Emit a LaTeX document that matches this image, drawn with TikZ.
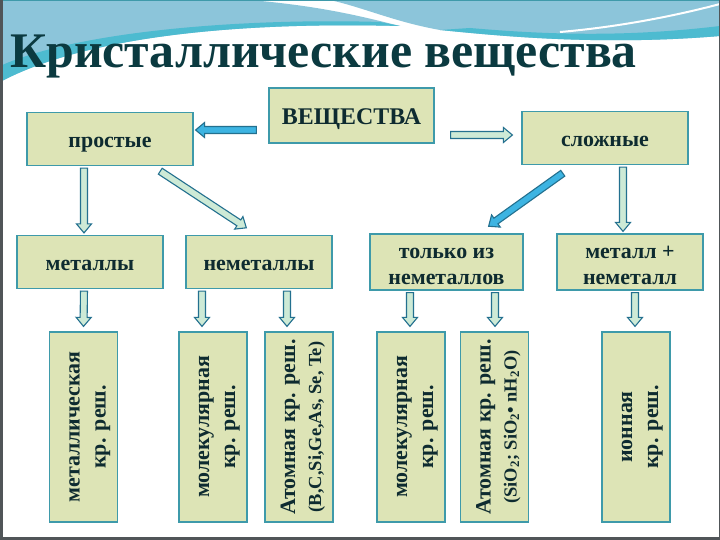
\documentclass[tikz,border=0pt]{standalone}
\usepackage{fontspec}
\setmainfont{Liberation Serif}
\usetikzlibrary{calc,positioning}
\definecolor{boxfill}{HTML}{DDE4B6}
\definecolor{boxline}{HTML}{3E9AAA}
\definecolor{txtdark}{HTML}{0E2B30}
\definecolor{titlecol}{HTML}{0B3A40}
\definecolor{lightfill}{HTML}{CDEAD6}
\definecolor{solidfill}{HTML}{3DB4E2}
\definecolor{arrline}{HTML}{23708F}
\definecolor{bannerblue}{HTML}{8CC5DA}
\definecolor{bannercyan}{HTML}{4DBBD0}
\definecolor{framegray}{HTML}{505558}
\tikzset{
  box/.style={draw=boxline, fill=boxfill, line width=1.2bp, text=txtdark, align=center,
    inner sep=0pt, font=\bfseries\fontsize{22}{26}\selectfont, minimum height=53bp,
    text height=24bp, text depth=6bp},
  twoline/.style={text height=50bp},
  tallbox/.style={box, twoline, rotate=90, minimum width=190bp, minimum height=68bp},
  arrowbody/.style={draw=arrline, line width=1.1bp, line join=miter}
}
% block arrow: fill, from, to
\newcommand{\blockarrow}[3]{%
  \path (#2) coordinate (ba-a) (#3) coordinate (ba-b);
  \path ($(ba-a)!2bp!(ba-b)$) coordinate (ba-s) ($(ba-b)!2bp!(ba-a)$) coordinate (ba-e);
  \path ($(ba-e)!9bp!(ba-s)$) coordinate (ba-h);
  \filldraw[arrowbody, fill=#1] ($(ba-s)!3.5bp!90:(ba-e)$) -- ($(ba-h)!3.5bp!90:(ba-e)$)
    -- ($(ba-h)!7.5bp!90:(ba-e)$) -- (ba-e) -- ($(ba-h)!7.5bp!-90:(ba-e)$)
    -- ($(ba-h)!3.5bp!-90:(ba-e)$) -- ($(ba-s)!3.5bp!-90:(ba-e)$) -- cycle;
}
\begin{document}
\begin{tikzpicture}[x=1bp,y=-1bp]
\useasboundingbox (0,0) rectangle (720,540);
\fill[white] (0,0) rectangle (720,540);
% banner at the top
\fill[bannerblue] (0,0) -- (250,0) .. controls (320,6) and (360,16) .. (400,26)
  .. controls (250,22) and (90,34) .. (0,82) -- cycle;
\fill[bannerblue] (330,0) -- (720,0) -- (720,36) .. controls (600,46) and (500,36) .. (440,30)
  .. controls (395,22) and (365,8) .. (330,0) -- cycle;
\fill[bannercyan] (0,82) .. controls (90,34) and (250,22) .. (400,26) -- (380,22)
  .. controls (250,18) and (80,30) .. (0,66) -- cycle;
\fill[bannercyan] (720,36) .. controls (600,46) and (500,36) .. (440,30) -- (470,28)
  .. controls (540,34) and (620,38) .. (720,26) -- cycle;
\draw[white, line width=2bp] (560,32) .. controls (630,26) and (690,12) .. (720,4);
% frame of the slide
\draw[boxline, line width=1.5bp] (0,0.75) -- (720,0.75);
\draw[framegray, line width=3bp] (1.5,0) -- (1.5,538.5) -- (720,538.5);
\draw[framegray, line width=1bp] (719.5,0) -- (719.5,540);
% title
\node[anchor=base west, text=titlecol, inner sep=0pt, font=\bfseries\fontsize{50}{56}\selectfont] (title) at (10,68) {Кристаллические вещества};
% first two rows
\node[box, minimum width=165bp, minimum height=55bp, font=\bfseries\fontsize{24}{28}\selectfont] (subst) at (351.5,115.5) {ВЕЩЕСТВА};
\node[box, minimum width=166bp] (simple) at (110,139) {простые};
\node[box, minimum width=166bp] (complex) at (605,138) {сложные};
\node[box, minimum width=146bp] (metals) at (90,262) {металлы};
\node[box, minimum width=146bp] (nonmet) at (259,262) {неметаллы};
\node[box, twoline, minimum width=153bp] (onlynon) at (446.5,262) {только из\\неметаллов};
\node[box, twoline, minimum width=146bp] (metnon) at (630,262) {металл +\\неметалл};
% lattice types
\node[tallbox] (metlat) at (83.5,427) {металлическая\\кр. реш.};
\node[tallbox] (mol1) at (213,427) {молекулярная\\кр. реш.};
\node[tallbox] (atom1) at (299,427) {Атомная кр. реш.\\{\fontsize{18.5}{22}\selectfont (B,C,Si,Ge,As, Se, Te)}};
\node[tallbox] (mol2) at (411,427) {молекулярная\\кр. реш.};
\node[tallbox] (atom2) at (494.5,427) {Атомная кр. реш.\\{\fontsize{18.5}{22}\selectfont (SiO\textsubscript{2}; SiO\textsubscript{2}• nH\textsubscript{2}O)}};
\node[tallbox] (ion) at (636,427) {ионная\\кр. реш.};
% arrows from ВЕЩЕСТВА
\blockarrow{solidfill}{$(subst.west)+(-10,14.5)$}{$(subst.west -| simple.east)+(0,14.5)$}
\blockarrow{lightfill}{$(subst.east)+(14,19.5)$}{$(subst.east -| complex.west)+(-7,19.5)$}
% arrows to the second row
\blockarrow{lightfill}{$(simple.south)+(-26,0)$}{$(metals.north)+(-6,0)$}
\blockarrow{lightfill}{$(simple.south east)+(-35,4)$}{$(nonmet.north)+(-11,-6)$}
\blockarrow{solidfill}{$(complex.south west)+(43,7)$}{$(onlynon.north)+(40.5,-6)$}
\blockarrow{lightfill}{$(complex.south)+(18,0)$}{$(metnon.north)+(-7,0)$}
% arrows down to the lattices
\blockarrow{lightfill}{$(metals.south)+(-6,0)$}{$(metlat.east)+(0,-3)$}
\blockarrow{lightfill}{$(nonmet.south)+(-57,0)$}{$(mol1.east)+(-11,-3)$}
\blockarrow{lightfill}{$(nonmet.south)+(28,0)$}{$(atom1.east)+(-12,-3)$}
\blockarrow{lightfill}{$(onlynon.south)+(-36.5,0)$}{$(mol2.east)+(-1,-3)$}
\blockarrow{lightfill}{$(onlynon.south)+(48.5,0)$}{$(atom2.east)+(0.5,-3)$}
\blockarrow{lightfill}{$(metnon.south)+(5,0)$}{$(ion.east)+(-1,-3)$}
\end{tikzpicture}
\end{document}
